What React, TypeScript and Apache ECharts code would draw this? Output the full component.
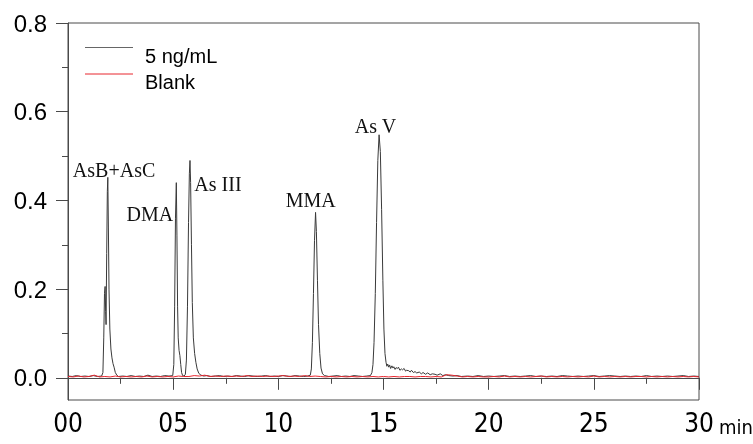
import React, { useEffect, useRef } from "react";
import * as echarts from "echarts";

// Retention time (min) and signal for the 5 ng/mL standard
const standardTrace: [number, number][] = [
  [0.0, 0.004], [0.2, 0.003], [0.4, 0.005], [0.6, 0.003], [0.8, 0.004], [1.0, 0.003], [1.2, 0.005], [1.4, 0.003], [1.6, 0.004],
  [1.66, 0.012], [1.70, 0.09], [1.735, 0.19], [1.765, 0.206], [1.79, 0.15], [1.81, 0.12], [1.84, 0.28], [1.87, 0.42], [1.893, 0.452],
  [1.92, 0.34], [1.95, 0.2], [1.99, 0.11], [2.04, 0.065], [2.09, 0.045], [2.14, 0.032], [2.19, 0.024], [2.25, 0.012], [2.32, 0.006],
  [2.4, 0.003], [2.6, 0.004], [2.8, 0.003], [3.0, 0.005], [3.2, 0.003], [3.4, 0.004], [3.6, 0.003], [3.8, 0.006], [4.0, 0.003],
  [4.2, 0.004], [4.4, 0.003], [4.6, 0.005], [4.8, 0.004], [4.98, 0.005],
  [5.03, 0.03], [5.07, 0.16], [5.11, 0.36], [5.15, 0.44], [5.18, 0.32], [5.21, 0.16], [5.24, 0.09], [5.28, 0.062], [5.32, 0.05],
  [5.36, 0.03], [5.4, 0.012], [5.45, 0.005], [5.52, 0.004], [5.58, 0.008],
  [5.63, 0.04], [5.68, 0.16], [5.73, 0.35], [5.77, 0.46], [5.8, 0.49], [5.83, 0.44], [5.87, 0.3], [5.91, 0.17], [5.96, 0.09],
  [6.02, 0.055], [6.08, 0.035], [6.14, 0.02], [6.22, 0.01], [6.32, 0.006], [6.45, 0.004],
  [6.6, 0.005], [6.8, 0.003], [7.0, 0.004], [7.2, 0.005], [7.4, 0.003], [7.6, 0.004], [7.8, 0.003], [8.0, 0.005], [8.2, 0.004],
  [8.4, 0.003], [8.6, 0.005], [8.8, 0.004], [9.0, 0.003], [9.2, 0.004], [9.4, 0.005], [9.6, 0.003], [9.8, 0.004], [10.0, 0.003],
  [10.2, 0.005], [10.4, 0.004], [10.6, 0.003], [10.8, 0.005], [11.0, 0.004], [11.2, 0.003], [11.4, 0.004],
  [11.52, 0.006], [11.57, 0.02], [11.62, 0.08], [11.67, 0.19], [11.72, 0.31], [11.77, 0.373], [11.81, 0.33], [11.86, 0.22],
  [11.91, 0.12], [11.97, 0.055], [12.03, 0.022], [12.1, 0.009], [12.2, 0.005],
  [12.4, 0.003], [12.6, 0.004], [12.8, 0.005], [13.0, 0.003], [13.2, 0.004], [13.4, 0.003], [13.6, 0.005], [13.8, 0.004],
  [14.0, 0.003], [14.2, 0.004], [14.38, 0.005],
  [14.45, 0.012], [14.5, 0.03], [14.55, 0.08], [14.61, 0.19], [14.67, 0.35], [14.73, 0.49], [14.79, 0.548], [14.85, 0.51],
  [14.91, 0.38], [14.97, 0.22], [15.02, 0.11], [15.07, 0.055], [15.12, 0.035], [15.16, 0.026], [15.2, 0.031], [15.25, 0.024],
  [15.29, 0.029], [15.34, 0.021], [15.4, 0.027], [15.45, 0.022], [15.49, 0.025], [15.55, 0.019], [15.6, 0.023], [15.66, 0.021],
  [15.71, 0.024], [15.78, 0.017], [15.85, 0.02], [15.9, 0.018], [15.98, 0.021], [16.05, 0.015], [16.1, 0.017], [16.2, 0.016],
  [16.27, 0.013], [16.33, 0.017], [16.42, 0.012], [16.5, 0.014], [16.58, 0.011], [16.7, 0.013], [16.8, 0.009], [16.88, 0.012],
  [17.0, 0.008], [17.1, 0.011], [17.22, 0.007], [17.32, 0.009], [17.45, 0.008], [17.55, 0.006], [17.7, 0.009], [17.82, 0.005],
  [17.95, 0.007], [18.1, 0.005], [18.3, 0.004], [18.5, 0.005], [18.7, 0.003],
  [19.0, 0.004], [19.25, 0.003], [19.5, 0.005], [19.75, 0.003], [20.0, 0.004], [20.25, 0.003], [20.5, 0.004], [20.75, 0.005],
  [21.0, 0.003], [21.25, 0.004], [21.5, 0.003], [21.75, 0.004], [22.0, 0.005], [22.25, 0.003], [22.5, 0.004], [22.75, 0.003],
  [23.0, 0.004], [23.25, 0.003], [23.5, 0.005], [23.75, 0.004], [24.0, 0.003], [24.25, 0.004], [24.5, 0.003], [24.75, 0.004],
  [25.0, 0.005], [25.25, 0.003], [25.5, 0.004], [25.75, 0.005], [26.0, 0.004], [26.25, 0.003], [26.5, 0.004], [26.75, 0.003],
  [27.0, 0.004], [27.25, 0.003], [27.5, 0.005], [27.75, 0.003], [28.0, 0.004], [28.25, 0.003], [28.5, 0.004], [28.75, 0.003],
  [29.0, 0.004], [29.25, 0.005], [29.5, 0.003], [29.75, 0.004], [30.0, 0.003],
];

// Retention time (min) and signal for the blank
const blankTrace: [number, number][] = [
  [0, 0.003], [0.25, 0.002], [0.5, 0.004], [0.75, 0.002], [1, 0.003], [1.25, 0.006], [1.5, 0.002], [1.75, 0.003], [2, 0.002],
  [2.25, 0.004], [2.5, 0.002], [2.75, 0.003], [3, 0.002], [3.25, 0.003], [3.5, 0.002], [3.75, 0.004], [4, 0.002], [4.25, 0.003],
  [4.5, 0.002], [4.75, 0.003], [5, 0.002], [5.25, 0.004], [5.5, 0.003], [5.75, 0.003], [6, 0.005], [6.25, 0.004], [6.5, 0.006],
  [6.75, 0.003], [7, 0.004], [7.25, 0.003], [7.5, 0.004], [7.75, 0.003], [8, 0.004], [8.25, 0.003], [8.5, 0.005], [8.75, 0.003],
  [9, 0.004], [9.25, 0.003], [9.5, 0.004], [9.75, 0.003], [10, 0.004], [10.25, 0.005], [10.5, 0.003], [10.75, 0.004], [11, 0.003],
  [11.25, 0.005], [11.5, 0.003], [11.75, 0.004], [12, 0.003], [12.25, 0.002], [12.5, 0.003], [12.75, 0.002], [13, 0.003],
  [13.25, 0.002], [13.5, 0.003], [13.75, 0.002], [14, 0.003], [14.25, 0.002], [14.5, 0.003], [14.75, 0.002], [15, 0.003],
  [15.25, 0.002], [15.5, 0.003], [15.75, 0.002], [16, 0.003], [16.25, 0.003], [16.5, 0.002], [16.75, 0.003], [17, 0.003],
  [17.25, 0.002], [17.5, 0.003], [17.75, 0.002], [18, 0.007], [18.25, 0.006], [18.5, 0.004], [18.75, 0.002], [19, 0.003],
  [19.25, 0.002], [19.5, 0.003], [19.75, 0.002], [20, 0.002], [20.25, 0.003], [20.5, 0.002], [20.75, 0.004], [21, 0.002],
  [21.25, 0.003], [21.5, 0.002], [21.75, 0.003], [22, 0.002], [22.25, 0.003], [22.5, 0.004], [22.75, 0.002], [23, 0.003],
  [23.25, 0.002], [23.5, 0.003], [23.75, 0.002], [24, 0.003], [24.25, 0.002], [24.5, 0.003], [24.75, 0.002], [25, 0.004],
  [25.25, 0.002], [25.5, 0.003], [25.75, 0.002], [26, 0.003], [26.25, 0.002], [26.5, 0.003], [26.75, 0.002], [27, 0.003],
  [27.25, 0.003], [27.5, 0.002], [27.75, 0.003], [28, 0.002], [28.25, 0.003], [28.5, 0.002], [28.75, 0.003], [29, 0.002],
  [29.25, 0.003], [29.5, 0.002], [29.75, 0.003], [30, 0.002],
];

const seriesNames = ["5 ng/mL", "Blank"];

// Peak annotations (label anchor in data coordinates)
const peakNames = ["AsB+AsC", "DMA", "As III", "MMA", "As V"];
const peakLabelTimes = [2.19, 3.89, 7.13, 11.54, 14.62];
const peakLabelValues = [0.469, 0.37, 0.437, 0.401, 0.568];

const yMajorTicks = [0, 0.2, 0.4, 0.6, 0.8];
const yMinorTicks = [0.1, 0.3, 0.5, 0.7];
const xUnit = "min";

const BLACK = "#3a3a3a";
const RED = "#e8262e";
const AXIS = "#4a4a4a";
const NARROW = '"Liberation Sans Narrow", "Arial Narrow", "DejaVu Sans Condensed", sans-serif';
const SANS = '"Liberation Sans", Arial, sans-serif';
const SERIF = '"Liberation Serif", "Times New Roman", serif';

export default function App() {
  const ref = useRef<HTMLDivElement>(null);
  useEffect(() => {
    if (!ref.current) return;
    const chart = echarts.init(ref.current, undefined, { renderer: "svg" });
    chart.setOption({
      animation: false,
      grid: { left: 68, right: 54, top: 23, bottom: 44, show: true, borderColor: AXIS, borderWidth: 1 },
      xAxis: {
        type: "value",
        min: 0,
        max: 30,
        interval: 5,
        axisLine: { show: true, lineStyle: { color: AXIS } },
        axisTick: { show: true, length: 12, lineStyle: { color: AXIS } },
        minorTick: { show: true, splitNumber: 2, length: 6, lineStyle: { color: AXIS } },
        splitLine: { show: false },
        axisLabel: {
          formatter: (v: number) => String(v).padStart(2, "0"),
          fontFamily: NARROW,
          fontSize: 26,
          color: "#000",
          margin: 10,
        },
      },
      yAxis: [
        {
          type: "value",
          min: -0.05,
          max: 0.8,
          position: "left",
          axisLine: { show: true, lineStyle: { color: AXIS } },
          axisTick: { show: true, length: 12, customValues: yMajorTicks, lineStyle: { color: AXIS } },
          axisLabel: {
            customValues: yMajorTicks,
            formatter: (v: number) => v.toFixed(1),
            fontFamily: SANS,
            fontSize: 24,
            color: "#000",
            margin: 21,
          },
          splitLine: { show: false },
        },
        {
          type: "value",
          min: -0.05,
          max: 0.8,
          position: "left",
          axisLine: { show: false },
          axisTick: { show: true, length: 6, customValues: yMinorTicks, lineStyle: { color: AXIS } },
          axisLabel: { show: false },
          splitLine: { show: false },
        },
      ],
      series: [
        {
          name: seriesNames[0],
          type: "line",
          data: standardTrace,
          showSymbol: false,
          symbol: "none",
          lineStyle: { color: BLACK, width: 1 },
          itemStyle: { color: BLACK },
          markPoint: {
            symbol: "circle",
            symbolSize: 0,
            silent: true,
            label: {
              show: true,
              position: "inside",
              formatter: (p: any) => p.name,
              fontFamily: SERIF,
              fontSize: 20,
              color: "#111",
            },
            data: peakNames.map((n, i) => ({ name: n, coord: [peakLabelTimes[i], peakLabelValues[i]] })),
          },
        },
        {
          name: seriesNames[1],
          type: "line",
          data: blankTrace,
          showSymbol: false,
          symbol: "none",
          lineStyle: { color: RED, width: 1 },
          itemStyle: { color: RED },
        },
      ],
      graphic: [
        { type: "line", shape: { x1: 85, y1: 47.5, x2: 133, y2: 47.5 }, style: { stroke: "#666", lineWidth: 1 } },
        { type: "line", shape: { x1: 85, y1: 74, x2: 133, y2: 74 }, style: { stroke: RED, lineWidth: 1 } },
        { type: "text", x: 145, y: 56, style: { text: seriesNames[0], font: `20px ${SANS}`, fill: "#000", verticalAlign: "middle" } },
        { type: "text", x: 145, y: 82, style: { text: seriesNames[1], font: `20px ${SANS}`, fill: "#000", verticalAlign: "middle" } },
        { type: "text", x: 719, y: 427, style: { text: xUnit, font: `20px ${NARROW}`, fill: "#000", verticalAlign: "middle" } },
      ],
    });
    return () => chart.dispose();
  }, []);
  return <div ref={ref} style={{ position: "fixed", left: 0, top: 0, width: 753, height: 444 }} />;
}
